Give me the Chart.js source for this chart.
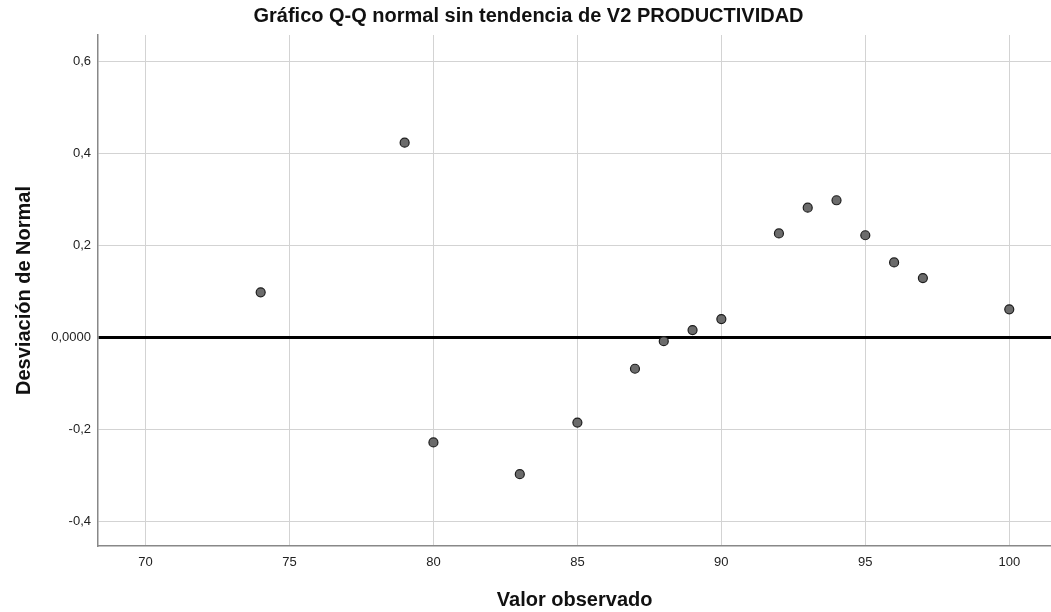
<!DOCTYPE html>
<html>
<head>
<meta charset="utf-8">
<script src="https://cdn.jsdelivr.net/npm/chart.js@4.4.1/dist/chart.umd.min.js"></script>
<style>
  body { margin: 0; background: #fff; overflow: hidden; }
  #wrap { width: 1051px; height: 612px; overflow: hidden; }
  #qq { display: block; }
</style>
</head>
<body>
<div id="wrap"><canvas id="qq" width="1057" height="612"></canvas></div>
<script>
// valores observados y desviacion de la normal
var observado = [74, 79, 80, 83, 85, 87, 88, 89, 90, 92, 93, 94, 95, 96, 97, 100];
var desviacion = [0.098, 0.423, -0.228, -0.297, -0.185, -0.068, -0.008, 0.016, 0.040, 0.226, 0.282, 0.298, 0.222, 0.163, 0.129, 0.061];
var ticksX = [70, 75, 80, 85, 90, 95, 100];
var ticksY = [-0.4, -0.2, 0, 0.2, 0.4, 0.6];

var puntos = [];
for (var i in observado) {
    puntos.push({ x: observado[i], y: desviacion[i] });
}

var fuente = "'Liberation Sans', Arial, sans-serif";

// el lienzo es 6px mas ancho: Chart.js deja margen por el radio de los puntos
var grafico = new Chart(document.getElementById('qq'), {
    type: 'scatter',
    data: {
        datasets: [{
            label: 'V2 PRODUCTIVIDAD',
            data: puntos,
            backgroundColor: '#6b6b6b',
            borderColor: '#1e1e1e',
            borderWidth: 1.2,
            pointRadius: 4.5,
            pointHoverRadius: 4.5
        }]
    },
    options: {
        responsive: false,
        animation: false,
        layout: { padding: 0 },
        plugins: {
            legend: { display: false },
            tooltip: { enabled: false },
            title: {
                display: true,
                text: 'Gráfico Q-Q normal sin tendencia de V2 PRODUCTIVIDAD',
                color: '#111',
                font: { family: fuente, size: 20, weight: 'bold' },
                padding: { top: 4, bottom: 7 }
            }
        },
        scales: {
            x: {
                type: 'linear',
                min: 68.35,
                max: 101.46,
                afterBuildTicks: function(scale) {
                    scale.ticks = ticksX.map(function(v) { return { value: v }; });
                },
                afterFit: function(scale) {
                    scale.height = 66;
                    scale.paddingLeft = 0;
                    scale.paddingRight = 0;
                },
                grid: { color: '#d3d3d3', lineWidth: 1, drawTicks: false },
                border: { color: '#888', width: 1.5 },
                ticks: {
                    color: '#222',
                    padding: 9,
                    font: { family: fuente, size: 13 }
                },
                title: {
                    display: true,
                    text: 'Valor observado',
                    color: '#111',
                    font: { family: fuente, size: 20, weight: 'bold' },
                    padding: { top: 1, bottom: 0 }
                }
            },
            y: {
                type: 'linear',
                min: -0.453,
                max: 0.657,
                afterBuildTicks: function(scale) {
                    scale.ticks = ticksY.map(function(v) { return { value: v }; });
                },
                afterFit: function(scale) {
                    scale.width = 98;
                    scale.paddingTop = 0;
                    scale.paddingBottom = 0;
                },
                grid: {
                    drawTicks: false,
                    color: function(ctx) {
                        return (ctx.tick && Math.abs(ctx.tick.value) < 1e-9) ? '#000' : '#d3d3d3';
                    },
                    lineWidth: function(ctx) {
                        return (ctx.tick && Math.abs(ctx.tick.value) < 1e-9) ? 3 : 1;
                    }
                },
                border: { color: '#888', width: 1.5 },
                ticks: {
                    color: '#222',
                    padding: 7,
                    font: { family: fuente, size: 13 },
                    callback: function(v) {
                        if (Math.abs(v) < 1e-9) return '0,0000';
                        return v.toFixed(1).replace('.', ',');
                    }
                },
                title: {
                    display: true,
                    text: 'Desviación de Normal',
                    color: '#111',
                    font: { family: fuente, size: 20, weight: 'bold' },
                    padding: { top: 12, bottom: 0 }
                }
            }
        }
    }
});
</script>
</body>
</html>
